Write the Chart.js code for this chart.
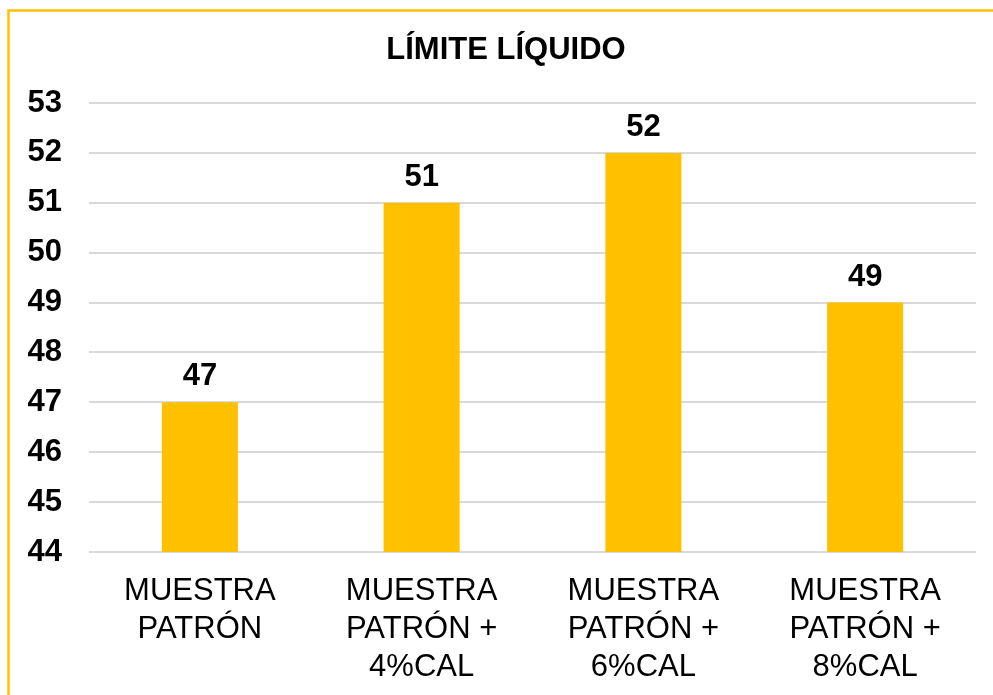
<!DOCTYPE html>
<html>
<head>
<meta charset="utf-8">
<script src="https://cdn.jsdelivr.net/npm/chart.js@4.4.1/dist/chart.umd.min.js"></script>
<style>
  html, body { margin: 0; padding: 0; background: #fff; }
  #wrap { position: relative; width: 993px; height: 695px; }
</style>
</head>
<body>
<div id="wrap"><canvas id="limiteChart" width="993" height="695"></canvas></div>
<script>
const chartTitle = 'LÍMITE LÍQUIDO';
const categories = [
    ['MUESTRA', 'PATRÓN'],
    ['MUESTRA', 'PATRÓN +', '4%CAL'],
    ['MUESTRA', 'PATRÓN +', '6%CAL'],
    ['MUESTRA', 'PATRÓN +', '8%CAL']
];
const limiteLiquido = [47, 51, 52, 49];
const yTicks = [44, 45, 46, 47, 48, 49, 50, 51, 52, 53];

const gold = '#FFC000';
const fontFamily = '"Liberation Sans", Arial, sans-serif';

// gold frame (top + left edge of the pasted chart box) and the title,
// which in the original sits centred on the whole box, not on the plot
const framePlugin = {
    id: 'frame',
    beforeDraw(chart) {
        const ctx = chart.ctx;
        ctx.save();
        ctx.fillStyle = '#fff';
        ctx.fillRect(0, 0, chart.width, chart.height);
        ctx.strokeStyle = gold;
        ctx.lineWidth = 2.5;
        ctx.beginPath();
        ctx.moveTo(8.5, chart.height);
        ctx.lineTo(8.5, 10.5);
        ctx.lineTo(chart.width, 10.5);
        ctx.stroke();

        ctx.font = 'bold 31px ' + fontFamily;
        ctx.fillStyle = '#000';
        ctx.textAlign = 'center';
        ctx.textBaseline = 'middle';
        ctx.fillText(chartTitle, (36 + chart.chartArea.right) / 2, 50);
        ctx.restore();
    }
};

const valueLabels = {
    id: 'valueLabels',
    afterDatasetsDraw(chart) {
        const ctx = chart.ctx;
        const meta = chart.getDatasetMeta(0);
        ctx.save();
        ctx.font = 'bold 31px ' + fontFamily;
        ctx.fillStyle = '#000';
        ctx.textAlign = 'center';
        ctx.textBaseline = 'alphabetic';
        meta.data.forEach((bar, i) => {
            ctx.fillText(String(limiteLiquido[i]), bar.x, bar.y - 17);
        });
        ctx.restore();
    }
};

new Chart(document.getElementById('limiteChart'), {
    type: 'bar',
    data: {
        labels: categories,
        datasets: [{
            data: limiteLiquido,
            backgroundColor: gold,
            borderWidth: 0,
            categoryPercentage: 1,
            barPercentage: 0.343
        }]
    },
    options: {
        responsive: false,
        animation: false,
        layout: { padding: { left: 10, right: 17, top: 103, bottom: 0 } },
        scales: {
            y: {
                min: 44,
                max: 53,
                afterBuildTicks: s => { s.ticks = yTicks.map(v => ({ value: v })); },
                afterFit: s => { s.width = 79; },
                border: { display: false },
                grid: { color: '#d9d9d9', lineWidth: 2, drawTicks: false },
                ticks: {
                    color: '#000',
                    padding: 27,
                    font: { family: fontFamily, size: 31, weight: 'bold' }
                }
            },
            x: {
                afterFit: s => { s.height = 143; },
                border: { display: false },
                grid: { display: false, drawTicks: false },
                ticks: {
                    color: '#000',
                    padding: 21,
                    maxRotation: 0,
                    autoSkip: false,
                    font: { family: fontFamily, size: 31, lineHeight: 1.22 }
                }
            }
        },
        plugins: {
            legend: { display: false },
            tooltip: { enabled: false },
            title: { display: false }
        }
    },
    plugins: [framePlugin, valueLabels]
});
</script>
</body>
</html>
